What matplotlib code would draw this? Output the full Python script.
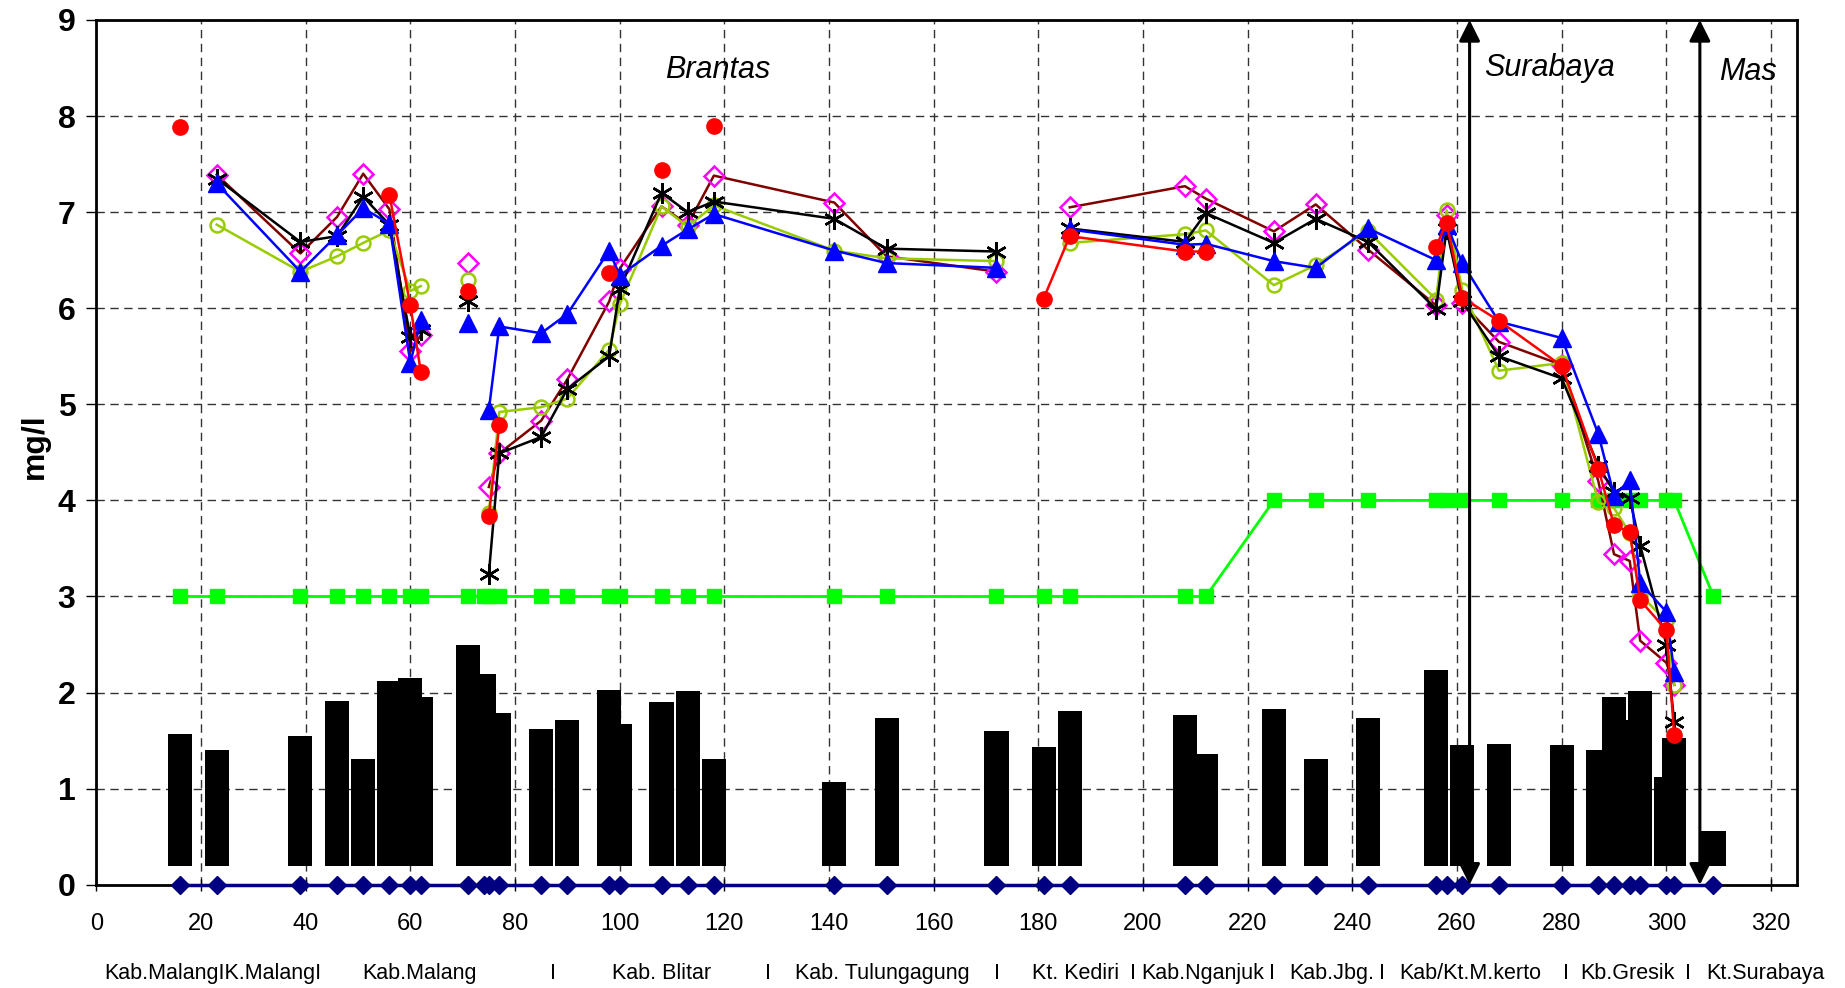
import matplotlib
matplotlib.use("Agg")
import matplotlib.pyplot as plt
import matplotlib.transforms as mtransforms
import numpy as np

nan = np.nan

# station positions (km along the river)
km = [16, 23, 39, 46, 51, 56, 60, 62, 71, 74, 75, 77, 85, 90, 98, 100, 108,
      113, 118, 141, 151, 172, 181, 186, 208, 212, 225, 233, 243, 256, 258,
      261, 268, 280, 287, 290, 293, 295, 300, 301.5, 309]

# DO readings, mg/l (nan = no sample)
do_diamond = [nan, 7.39, 6.57, 6.95, 7.40, 7.03, 5.55, 5.72, 6.47, nan, 4.14, 4.49,
              4.83, 5.26, 6.07, 6.41, 7.06, 6.87, 7.38, 7.10, 6.54, 6.38, nan, 7.05,
              7.27, 7.14, 6.80, 7.08, 6.61, 6.03, 6.97, 6.05, 5.65, 5.41, 4.20, 3.44,
              3.37, 2.54, 2.31, 2.08, nan]
do_circle = [nan, 6.87, 6.38, 6.54, 6.68, 6.81, 6.18, 6.23, 6.29, nan, 3.87, 4.92,
             4.97, 5.06, 5.57, 6.04, 7.06, 6.85, 7.07, 6.60, 6.52, 6.49, nan, 6.68,
             6.77, 6.81, 6.24, 6.45, 6.80, 6.09, 7.02, 6.19, 5.35, 5.43, 3.98, 3.92,
             3.66, 3.02, 2.74, 2.08, nan]
do_red = [7.89, nan, nan, nan, nan, 7.18, 6.03, 5.34, 6.18, nan, 3.84, 4.78,
          nan, nan, 6.37, nan, 7.44, nan, 7.90, nan, nan, nan, 6.10, 6.75,
          6.59, 6.59, nan, nan, nan, 6.64, 6.89, 6.11, 5.87, 5.40, 4.33, 3.74,
          3.67, 2.96, 2.65, 1.56, nan]
do_star = [nan, 7.35, 6.69, 6.75, 7.16, 6.87, 5.70, 5.77, 6.07, nan, 3.23, 4.49,
           4.66, 5.16, 5.50, 6.20, 7.20, 7.00, 7.11, 6.93, 6.62, 6.59, nan, 6.83,
           6.69, 6.99, 6.68, 6.93, 6.69, 5.99, 6.82, 6.07, 5.50, 5.27, 4.36, 4.09,
           4.02, 3.53, 2.50, 1.69, nan]
do_triangle = [nan, 7.30, 6.38, 6.76, 7.04, 6.88, 5.43, 5.88, 5.85, nan, 4.94, 5.81,
               5.74, 5.94, 6.60, 6.34, 6.65, 6.82, 6.98, 6.60, 6.47, 6.42, nan, 6.82,
               6.66, 6.67, 6.49, 6.42, 6.83, 6.50, 6.87, 6.47, 5.86, 5.69, 4.69, 4.05,
               4.21, 3.14, 2.84, 2.21, nan]

# quality standard
standard = [3] * 26 + [4] * 14 + [3]

# floating black columns (top value), base at 0.2
bar_top = [1.57, 1.40, 1.55, 1.91, 1.31, 2.12, 2.15, 1.95, 2.50, 2.19, nan, 1.79,
           1.62, 1.71, 2.03, 1.67, 1.90, 2.02, 1.31, 1.07, 1.74, 1.60, 1.43, 1.81,
           1.77, 1.36, 1.83, 1.31, 1.74, 2.24, nan, 1.45, 1.47, 1.45, 1.40, 1.95,
           1.71, 2.02, 1.12, 1.53, 0.56]
bar_base = 0.2

no_link = [71]          # stations shown as loose points
river_marks = [262.4, 306.4]

regions = ["Kab.MalangIK.MalangI", "Kab.Malang", "I", "Kab. Blitar", "I",
           "Kab. Tulungagung", "I", "Kt. Kediri", "I", "Kab.Nganjuk", "I",
           "Kab.Jbg.", "I", "Kab/Kt.M.kerto", "I", "Kb.Gresik", "I", "Kt.Surabaya"]
region_x = [1.6, 50.9, 87.3, 98.5, 128.4, 133.5, 172.1, 178.7, 198.0, 199.7, 224.6,
            227.9, 245.6, 249.0, 280.8, 283.5, 304.1, 307.7]

plain = ['Liberation Sans', 'DejaVu Sans']

km_arr = np.array(km, float)


def linked(vals):
    arr = np.array(vals, float)
    arr[np.isin(km_arr, no_link)] = nan
    return arr


fig = plt.figure(figsize=(18.45, 9.88), dpi=100)
ax = fig.add_axes([0.0522, 0.1045, 0.9219, 0.8753])

ax.set_xlim(0, 325)
ax.set_ylim(0, 9)

ax.grid(True, which='major', color='#333333', lw=1.0, ls=(0, (6, 4)))
ax.set_axisbelow(True)

ax.bar(km, np.array(bar_top) - bar_base, bottom=bar_base, width=4.6,
       color='black', zorder=2)

ax.plot(km, standard, color='#00FF00', lw=2, marker='s', ms=10,
        mec='#00FF00', mfc='#00FF00', zorder=3)

series = [
    (do_diamond, '#800000', dict(marker='D', ms=10, mfc='none', mec='#FF00FF', mew=1.8)),
    (do_circle, '#99CC00', dict(marker='o', ms=10, mfc='none', mec='#99CC00', mew=1.8)),
    (do_star, 'black', dict(marker=(6, 2, 0), ms=15, mec='black', mew=1.8)),
    (do_triangle, '#0000FF', dict(marker='^', ms=13, mfc='#0000FF', mec='#0000FF')),
    (do_red, '#FF0000', dict(marker='o', ms=11, mfc='#FF0000', mec='#FF0000')),
]
z = 4
for vals, lc, mk in series:
    ax.plot(km, linked(vals), color=lc, lw=1.8, zorder=z)
    ax.plot(km, vals, ls='none', zorder=z + 0.5, **mk)
    z += 1

ax.plot(km, np.zeros(len(km)), color='#000080', lw=2.5, marker='D', ms=9,
        mfc='#000080', mec='#000080', clip_on=False, zorder=12)

for xm in river_marks:
    ax.annotate('', xy=(xm, 9), xytext=(xm, 0),
                arrowprops=dict(arrowstyle='<|-|>', color='black', lw=2.2,
                                mutation_scale=32, shrinkA=0, shrinkB=0),
                zorder=13, annotation_clip=False)

for name, xp, yp in [('Brantas', 118.7, 8.48), ('Surabaya', 277.6, 8.5),
                     ('Mas', 315.6, 8.46)]:
    ax.text(xp, yp, name, style='italic', fontsize=22, family=plain,
            ha='center', va='center')

ax.set_xticks(range(0, 321, 20))
ax.set_yticks(range(0, 10))
ax.tick_params(axis='x', direction='inout', length=9, width=1, pad=16,
               labelsize=17)
ax.tick_params(axis='y', direction='out', length=7, width=1, pad=8,
               labelsize=23)
for lab in ax.get_xticklabels():
    lab.set_family(plain)
for lab in ax.get_yticklabels():
    lab.set_family(plain)
    lab.set_fontweight('bold')

for sp in ax.spines.values():
    sp.set_linewidth(2)
    sp.set_color('black')

fig.text(0.019, 0.548, 'mg/l', rotation=90, fontsize=23, fontweight='bold',
         family=plain, ha='center', va='center')

trans = mtransforms.blended_transform_factory(ax.transData, fig.transFigure)
for lab, xp in zip(regions, region_x):
    ax.text(xp, 0.0142, lab, transform=trans, fontsize=15.5, family=plain,
            ha='center' if lab == 'I' else 'left', va='center', clip_on=False)

fig.savefig('out.png', dpi=100)
